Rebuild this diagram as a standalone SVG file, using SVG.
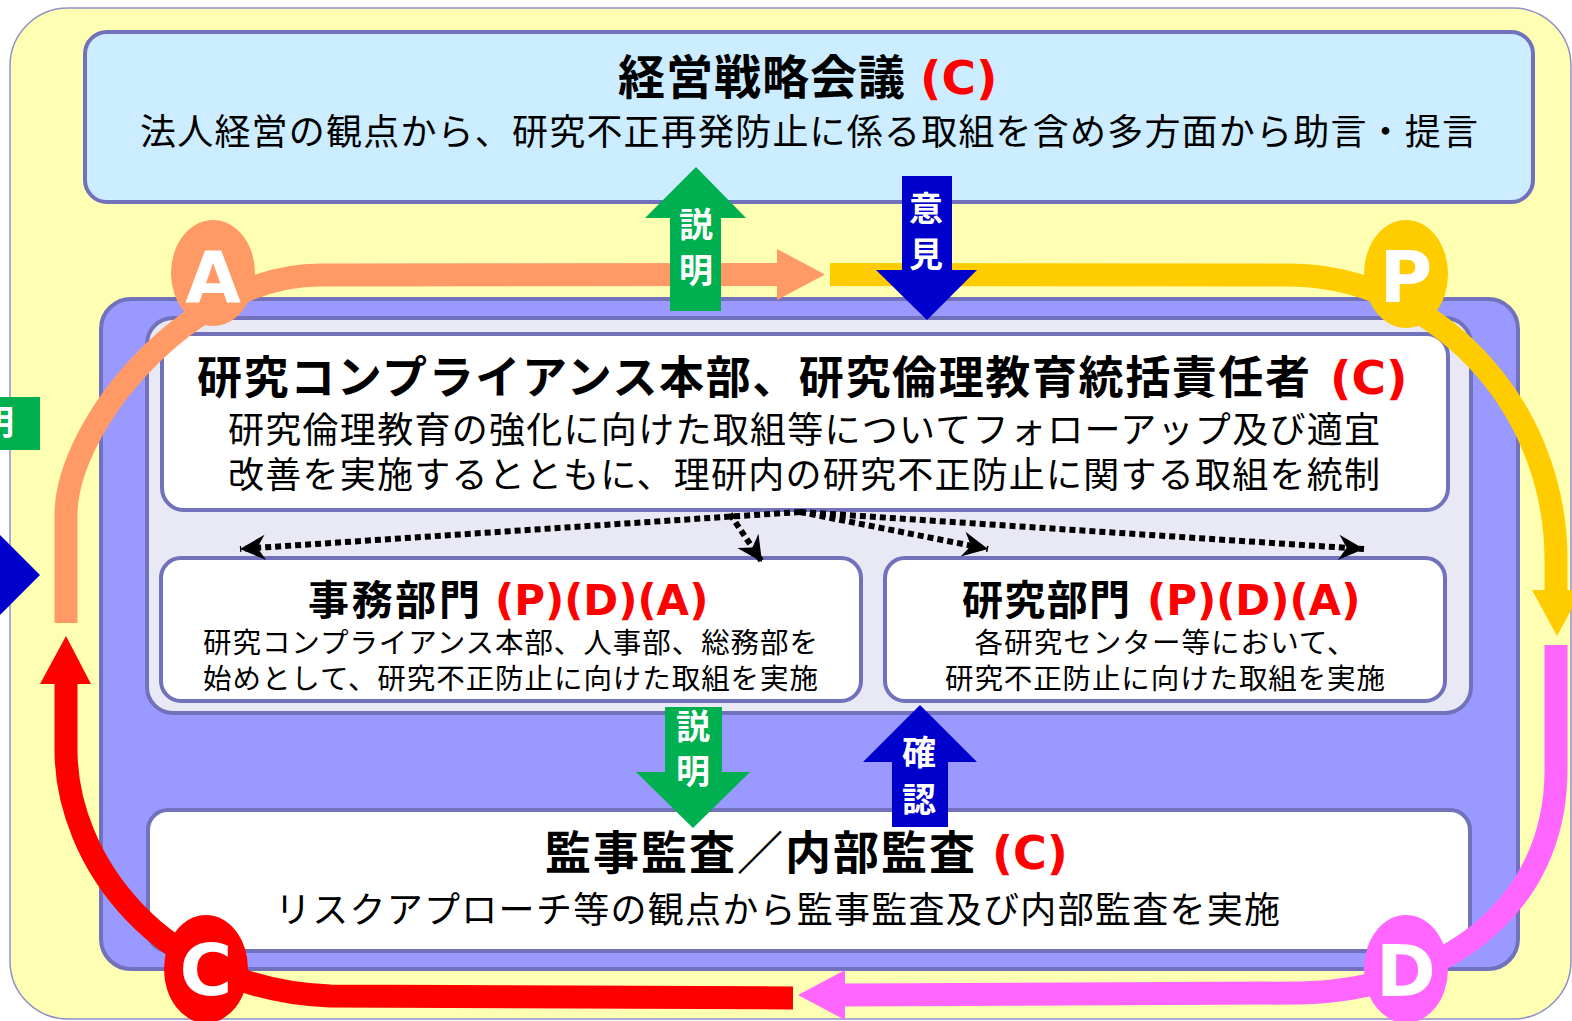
<svg xmlns="http://www.w3.org/2000/svg" width="1572" height="1021" viewBox="0 0 1572 1021">
<style>
.jp{font-family:"Noto Sans CJK JP","Noto Sans",sans-serif;fill:#000}
.b{font-weight:bold}
.lat{font-family:"DejaVu Sans","Noto Sans CJK JP",sans-serif;font-weight:bold;fill:#FF0000}
.lbl{font-family:"Noto Sans CJK JP",sans-serif;font-weight:bold;fill:#FFFFFF;font-size:34px;text-anchor:middle}
.pdca{font-family:"DejaVu Sans",sans-serif;font-weight:bold;fill:#FFFFFF;font-size:72px;text-anchor:middle}
.box{stroke:#7171BC;stroke-width:4}
.band{fill:none;stroke-width:23;stroke-linecap:butt}
.dot{fill:none;stroke:#000;stroke-width:6;stroke-dasharray:6 4;marker-end:url(#ah)}
</style>
<defs>
<marker id="ah" markerUnits="userSpaceOnUse" markerWidth="30" markerHeight="30" viewBox="-24 -13 26 26" refX="0" refY="0" orient="auto">
<path d="M0,0 L-22,-11 L-15,0 L-22,11 Z" fill="#000"/>
</marker>
</defs>

<g id="background">
<rect x="10" y="8" width="1561" height="1011" rx="58" fill="#FFFFB4" stroke="#9090C8" stroke-width="1.5"/>
<rect x="0" y="397" width="40" height="53" fill="#00B050"/>
<text class="lbl" x="-3" y="435">明</text>
<polygon points="0,535 40,575 0,615" fill="#0000CC"/>
</g>

<g id="node-keiei">
<rect class="box" x="85" y="32" width="1448" height="170" rx="22" fill="#CCECFF"/>
<text class="jp b" x="618" y="94" font-size="47" textLength="287">経営戦略会議</text>
<text class="lat" x="920" y="94" font-size="47">(C)</text>
<text class="jp" x="140" y="145" font-size="36" textLength="1338">法人経営の観点から、研究不正再発防止に係る取組を含め多方面から助言・提言</text>
</g>

<g id="node-container">
<rect class="box" x="101" y="299" width="1417" height="670" rx="30" fill="#9999FF"/>
<rect class="box" x="147" y="318" width="1324" height="395" rx="26" fill="#E9E9F5"/>
</g>

<g id="node-honbu">
<rect class="box" x="162" y="334" width="1286" height="176" rx="22" fill="#FFFFFF"/>
<text class="jp b" x="197" y="394" font-size="45" textLength="1113">研究コンプライアンス本部、研究倫理教育統括責任者</text>
<text class="lat" x="1330" y="394" font-size="47">(C)</text>
<text class="jp" x="228" y="443" font-size="36" textLength="1152">研究倫理教育の強化に向けた取組等についてフォローアップ及び適宜</text>
<text class="jp" x="228" y="488" font-size="36" textLength="1152">改善を実施するとともに、理研内の研究不正防止に関する取組を統制</text>
</g>

<g id="node-jimu">
<rect class="box" x="161" y="558" width="700" height="143" rx="20" fill="#FFFFFF"/>
<text class="jp b" x="308" y="615" font-size="41" textLength="172">事務部門</text>
<text class="lat" x="495" y="615" font-size="42">(P)(D)(A)</text>
<text class="jp" x="203" y="653" font-size="28.5" textLength="615">研究コンプライアンス本部、人事部、総務部を</text>
<text class="jp" x="203" y="689" font-size="28.5" textLength="615">始めとして、研究不正防止に向けた取組を実施</text>
</g>

<g id="node-kenkyu">
<rect class="box" x="885" y="558" width="560" height="143" rx="20" fill="#FFFFFF"/>
<text class="jp b" x="962" y="615" font-size="41" textLength="168">研究部門</text>
<text class="lat" x="1147" y="615" font-size="42">(P)(D)(A)</text>
<text class="jp" x="1165" y="653" font-size="28.5" text-anchor="middle" textLength="381">各研究センター等において、</text>
<text class="jp" x="1165" y="689" font-size="28.5" text-anchor="middle" textLength="440">研究不正防止に向けた取組を実施</text>
</g>

<g id="node-kansa">
<rect class="box" x="148" y="810" width="1322" height="141" rx="20" fill="#FFFFFF"/>
<text class="jp b" x="545" y="869" font-size="46" textLength="430">監事監査／内部監査</text>
<text class="lat" x="992" y="869" font-size="46">(C)</text>
<text class="jp" x="275" y="923" font-size="36" textLength="1005">リスクアプローチ等の観点から監事監査及び内部監査を実施</text>
</g>

<g id="connectors">
<path class="band" stroke="#FF9966" d="M66,623 L66,515 C66,425 190,275 320,275 L778,274.5"/>
<polygon points="777,249 825,274.5 777,300" fill="#FF9966"/>
<path class="band" stroke="#FFCC00" d="M830,274.5 L1290,275 C1430,276 1556,400 1556,560 L1556,592"/>
<polygon points="1532,590 1557,636 1582,590" fill="#FFCC00"/>
<path class="band" stroke="#FF66FF" d="M1556,645 L1556,770 C1556,910 1440,990 1300,993 L844,995"/>
<polygon points="845,970 798,995 845,1020" fill="#FF66FF"/>
<path class="band" stroke="#FF0000" d="M793,998 L330,996 C160,990 66,860 66,750 L66,682"/>
<polygon points="40,684 66,636 91,684" fill="#FF0000"/>

<path class="dot" d="M800,512 L240,549"/>
<path class="dot" d="M730,514 L762,562"/>
<path class="dot" d="M800,512 L988,549"/>
<path class="dot" d="M800,512 L1364,549"/>

<g id="arrow-setsumei-up">
<polygon points="670,311 670,218 645,218 696,167 746,218 721,218 721,311" fill="#00B050"/>
<text class="lbl" x="696" y="237">説</text>
<text class="lbl" x="696" y="283">明</text>
</g>
<g id="arrow-iken-down">
<polygon points="902,176 952,176 952,270 977,270 927,320 876,270 902,270" fill="#0000CC"/>
<text class="lbl" x="926" y="221">意</text>
<text class="lbl" x="926" y="267">見</text>
</g>
<g id="arrow-setsumei-down">
<polygon points="665,707 722,707 722,772 750,772 693,828 636,772 665,772" fill="#00B050"/>
<text class="lbl" x="693" y="739">説</text>
<text class="lbl" x="693" y="784">明</text>
</g>
<g id="arrow-kakunin-up">
<polygon points="892,827 892,762 863,762 920,705 977,762 948,762 948,827" fill="#0000CC"/>
<text class="lbl" x="919" y="765">確</text>
<text class="lbl" x="919" y="812">認</text>
</g>
</g>

<g id="node-A">
<ellipse cx="213" cy="273" rx="42" ry="53" fill="#FF9966"/>
<text class="pdca" x="213" y="302">A</text>
</g>
<g id="node-P">
<ellipse cx="1406" cy="274" rx="42" ry="54" fill="#FFCC00"/>
<text class="pdca" x="1406" y="302">P</text>
</g>
<g id="node-D">
<ellipse cx="1406" cy="969" rx="42" ry="54" fill="#FF66FF"/>
<text class="pdca" x="1406" y="996">D</text>
</g>
<g id="node-C">
<ellipse cx="206" cy="969" rx="42" ry="54" fill="#FF0000"/>
<text class="pdca" x="206" y="995">C</text>
</g>
</svg>
